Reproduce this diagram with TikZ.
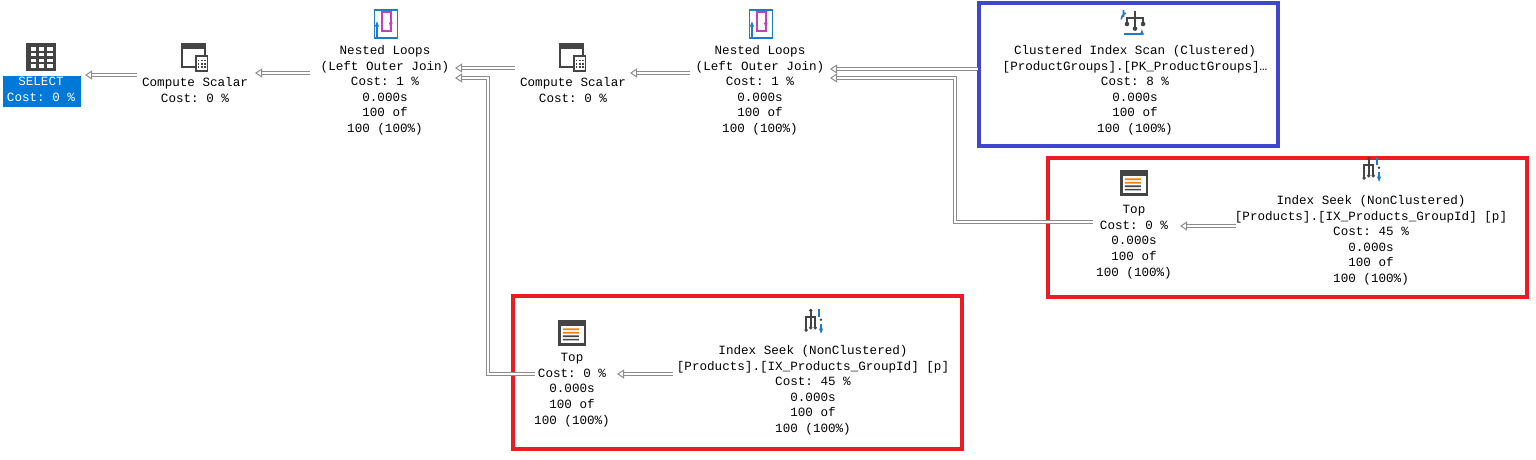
\documentclass[tikz,border=0pt]{standalone}
\usepackage{fontspec}
\setmonofont{Liberation Mono}
\usetikzlibrary{arrows.meta}
\definecolor{selblue}{HTML}{0078D7}
\definecolor{bbox}{HTML}{3F48CC}
\definecolor{rbox}{HTML}{ED1C24}
\definecolor{icg}{HTML}{444444}
\definecolor{icb}{HTML}{1F7BC8}
\definecolor{icm}{HTML}{C040C0}
\begin{document}
\begin{tikzpicture}[x=0.5pt,y=-0.5pt,
  lbl/.style={font=\ttfamily\fontsize{6.3pt}{7.8pt}\selectfont, align=center, inner sep=0pt, anchor=north},
  flow/.style={draw=black!45, double=white, double distance=1.2pt, line width=0.5pt, -{Triangle[open,length=3.5pt,width=4.5pt]}},
  hl/.style={line width=2pt}, ic/.style={scale=1.15}]
\useasboundingbox (0,0) rectangle (1536,460);
% boxes
\draw[bbox,hl] (979,3) rectangle (1278,146);
\draw[rbox,hl] (1048,158) rectangle (1527,297);
\draw[rbox,hl] (513,296) rectangle (962,449);
% SELECT
\fill[selblue] (3,76) rectangle (81,107);
\node[lbl,text=white] (sel) at (41,77) {SELECT\\Cost: 0 \%};
\begin{scope}[shift={(41,57)},ic]
 \fill[icg] (-13,-12) rectangle (13,12);
 \foreach \yy in {-7,-2,3,8} \foreach \xx in {-9,-2,5} \fill[white] (\xx,\yy-1.5) rectangle ++(5,3);
\end{scope}
% compute scalars
\foreach \n/\cx in {cs1/195,cs2/573}{
 \begin{scope}[shift={(\cx,57)},ic]
  \draw[icg,line width=1pt] (-11,-11) rectangle (9,9);
  \fill[icg] (-11,-11) rectangle (9,-7);
  \fill[white] (0,-2) rectangle (12,13);
  \draw[icg,line width=0.8pt] (1,-1) rectangle (11,12);
  \foreach \yy in {3,6,9} \foreach \xx in {3,6,9} \fill[icg] (\xx-0.8,\yy-0.8) rectangle ++(1.6,1.6);
 \end{scope}
}
\node[lbl] (cs1) at (195,77) {Compute Scalar\\Cost: 0 \%};
\node[lbl] (cs2) at (573,77) {Compute Scalar\\Cost: 0 \%};
% nested loops
\foreach \cx in {385,760}{
 \begin{scope}[shift={(\cx,24)},ic]
  \draw[icb,line width=0.8pt] (-9,-12) rectangle (11,12);
  \draw[icb,line width=1pt,-{Latex[length=3pt]}] (-7,11) -- (-7,-3);
  \draw[icm,line width=1pt] (-3,-10) -- (5,-10) -- (5,6) -- (-3,6) -- cycle;
  \draw[icm,line width=1pt,-{Latex[length=3pt]}] (5,-4) -- (5,4);
 \end{scope}
}
\node[lbl] (nl1) at (385,45) {Nested Loops\\(Left Outer Join)\\Cost: 1 \%\\0.000s\\100 of\\100 (100\%)};
\node[lbl] (nl2) at (760,45) {Nested Loops\\(Left Outer Join)\\Cost: 1 \%\\0.000s\\100 of\\100 (100\%)};
% clustered index scan
\begin{scope}[shift={(1135,24)},ic]
 \draw[icg,line width=1pt] (0,-11) -- (0,4) (-7,-2) -- (-7,-5) -- (7,-5) -- (7,-2);
 \fill[icg] (0,4) circle (2) (-7,0) circle (2) (7,0) circle (2);
 \draw[icb,line width=0.8pt] (-10,-12) -- (-10,-6) (-12,-4) arc (180:250:6);
 \draw[icb,line width=1pt,-{Latex[length=3pt]}] (-10,9) -- (6,9) -- (6,4);
\end{scope}
\node[lbl] (cis) at (1135,45) {Clustered Index Scan (Clustered)\\{[ProductGroups].[PK\_ProductGroups]\dots}\\Cost: 8 \%\\0.000s\\100 of\\100 (100\%)};
% tops
\foreach \cx/\cy in {1134/183,572/333}{
 \begin{scope}[shift={(\cx,\cy)},ic]
  \fill[icg] (-12,-11) rectangle (12,11);
  \fill[white] (-10,-6) rectangle (10,9);
  \fill[orange!80!brown] (-8,-4) rectangle (6,-2.5) (-8,-1) rectangle (6,0.5);
  \fill[icg] (-8,2) rectangle (6,3.5) (-8,5) rectangle (6,6.5);
 \end{scope}
}
\node[lbl] (top2) at (1134,205) {Top\\Cost: 0 \%\\0.000s\\100 of\\100 (100\%)};
\node[lbl] (top1) at (572,353) {Top\\Cost: 0 \%\\0.000s\\100 of\\100 (100\%)};
% index seeks
\foreach \cx/\cy in {1371/170,813/322}{
 \begin{scope}[shift={(\cx,\cy)},ic]
  \draw[icg,line width=1pt] (-6,6) -- (-6,-4) -- (2,-4) -- (2,4) (-2,-10) -- (-2,4);
  \fill[icg] (-6,7) circle (1.6) (-2,5) circle (1.6) (2,5) circle (1.6) (-2,-10) circle (1.6);
  \draw[icb,line width=0.8pt] (5,-11) -- (5,-4);
  \draw[icb,line width=1pt,-{Latex[length=3pt]}] (7,2) -- (7,11);
  \fill[icg] (7,-2) circle (1.2);
 \end{scope}
}
\node[lbl] (is2) at (1371,195) {Index Seek (NonClustered)\\{[Products].[IX\_Products\_GroupId] [p]}\\Cost: 45 \%\\0.000s\\100 of\\100 (100\%)};
\node[lbl] (is1) at (813,345) {Index Seek (NonClustered)\\{[Products].[IX\_Products\_GroupId] [p]}\\Cost: 45 \%\\0.000s\\100 of\\100 (100\%)};
% connectors
\draw[flow] (137,75) -- (85,75);
\draw[flow] (310,73) -- (255,73);
\draw[flow] (515,68) -- (455,68);
\draw[flow] (690,73) -- (630,73);
\draw[flow] (978,69) -- (830,69);
\draw[flow] (1093,222) -- (955,222) -- (955,78) -- (830,78);
\draw[flow] (1236,226) -- (1180,226);
\draw[flow] (535,374) -- (488,374) -- (488,78) -- (455,78);
\draw[flow] (673,374) -- (617,374);
\end{tikzpicture}
\end{document}
